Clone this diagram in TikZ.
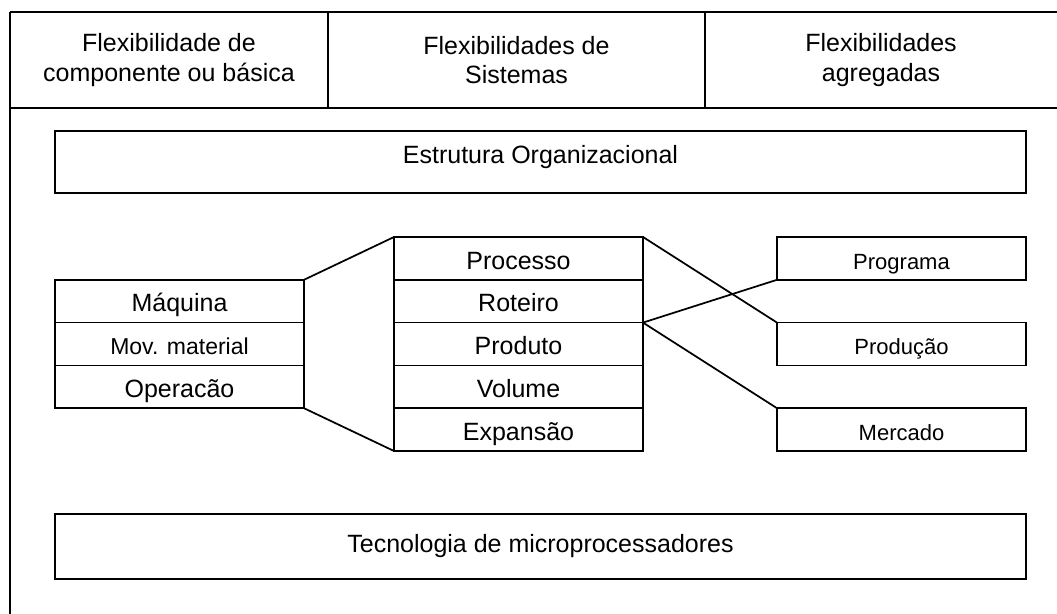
\documentclass[tikz,border=0pt]{standalone}
\usepackage{fontspec}
\setmainfont{Liberation Sans}
\usetikzlibrary{positioning}

\tikzset{
  cell/.style={draw, line width=1.3pt, minimum width=186.75pt, minimum height=32.1pt,
    inner sep=0pt, outer sep=0pt, text height=16pt, text depth=0pt,
    font=\fontsize{18.75}{21}\selectfont},
  small/.style={font=\fontsize{16.5}{19}\selectfont},
  wide/.style={draw, line width=1.3pt, minimum width=728.25pt, inner sep=0pt, outer sep=0pt,
    font=\fontsize{18.75}{21}\selectfont},
  head/.style={minimum height=72pt, inner sep=0pt, outer sep=0pt, align=center,
    font=\fontsize{18.75}{22}\selectfont}
}

\begin{document}
\begin{tikzpicture}[x=0.75pt, y=-0.75pt]
  \useasboundingbox (0,0) rectangle (1057,614);

  % header row
  \node[head, minimum width=238.5pt] (h1) at (169,60) {Flexibilidade de\\componente ou básica};
  \node[head, minimum width=282.75pt, right=0pt of h1] (h2) {Flexibilidades de\\Sistemas};
  \node[head, minimum width=264pt, right=0pt of h2] (h3) {Flexibilidades\\agregadas};
  \draw[line width=1.8pt] (h1.north west) -- (h3.north east);
  \draw[line width=1.3pt] (h1.south west) -- (h3.south east);
  \draw[line width=1.1pt] (h1.north east) -- (h1.south east);
  \draw[line width=1.1pt] (h2.north east) -- (h2.south east);
  \coordinate (fbot) at (10,614);
  \draw[line width=1.1pt] (h1.north west) -- (fbot);

  \node[wide, minimum height=46.5pt, text depth=11pt] (org) at (540.5,162) {Estrutura Organizacional};
  \node[wide, minimum height=48.75pt] (tec) at (540.5,546.5) {Tecnologia de microprocessadores};

  % systems column
  \node[cell] (proc) at (518.5,258.4) {Processo};
  \node[cell, below=0pt of proc] (rot) {Roteiro};
  \node[cell, below=0pt of rot] (prod) {Produto};
  \node[cell, below=0pt of prod] (vol) {Volume};
  \node[cell, below=0pt of vol] (exp) {Expansão};

  % basic column
  \node[cell, left=67.5pt of rot] (maq) {Máquina};
  \node[cell, font=\fontsize{17.25}{19}\selectfont, below=0pt of maq] (mov) {Mov. material};
  \node[cell, below=0pt of mov] (oper) {Operacão};

  % aggregated column
  \node[cell, small, right=100.5pt of proc] (prog) {Programa};
  \node[cell, small, right=100.5pt of prod] (pdc) {Produção};
  \node[cell, small, right=100.5pt of exp] (merc) {Mercado};

  \draw[line width=1.3pt] (maq.north east) -- (proc.north west);
  \draw[line width=1.3pt] (oper.south east) -- (exp.south west);
  \draw[line width=1.3pt] (proc.north east) -- (pdc.north west);
  \draw[line width=1.3pt] (prod.north east) -- (prog.south west);
  \draw[line width=1.3pt] (prod.north east) -- (merc.north west);
\end{tikzpicture}
\end{document}
